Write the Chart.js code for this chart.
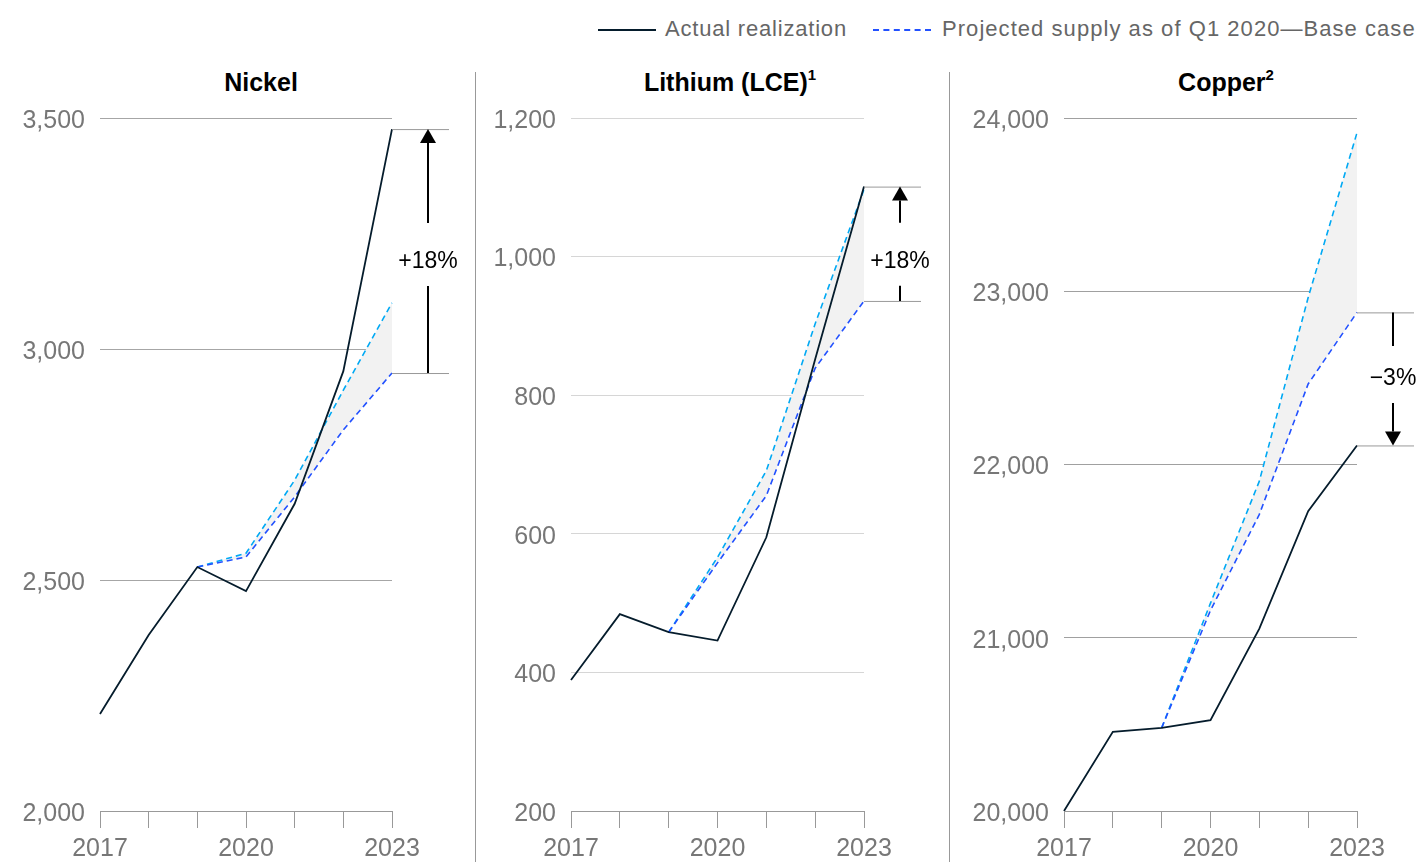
<!DOCTYPE html>
<html>
<head>
<meta charset="utf-8">
<script src="https://cdn.jsdelivr.net/npm/chart.js@4.4.0/dist/chart.umd.min.js"></script>
<style>
  html, body { margin: 0; padding: 0; background: #fff; }
  body { width: 1421px; height: 862px; position: relative; overflow: hidden; font-family: "Liberation Sans", Arial, sans-serif; }
  .panel { position: absolute; top: 0; height: 862px; }
  .title { position: absolute; top: 68px; font-size: 25px; font-weight: bold; color: #000; transform: translateX(-50%); white-space: nowrap; }
  .title sup { font-size: 15px; position: relative; top: -2px; }
  .sep { position: absolute; top: 72px; width: 1px; height: 790px; background: #999; }
  .legend { position: absolute; top: 16px; font-size: 22px; letter-spacing: 1.05px; color: #666; white-space: nowrap; }
  .swatch { position: absolute; top: 29px; width: 58px; height: 0; }
</style>
</head>
<body>
<div class="swatch" style="left:598px;border-top:2px solid #051c2c"></div>
<div class="legend" style="left:665px;letter-spacing:0.8px">Actual realization</div>
<div class="swatch" style="left:873px;border-top:2px dashed #2251ff"></div>
<div class="legend" style="left:942px">Projected supply as of Q1 2020—Base case</div>

<div class="title" style="left:261px">Nickel</div>
<div class="title" style="left:730px">Lithium (LCE)<sup>1</sup></div>
<div class="title" style="left:1226px">Copper<sup>2</sup></div>

<div class="sep" style="left:475px"></div>
<div class="sep" style="left:949px"></div>

<div class="panel" style="left:0;width:475px"><canvas id="nickel"></canvas></div>
<div class="panel" style="left:475px;width:474px"><canvas id="lithium"></canvas></div>
<div class="panel" style="left:949px;width:472px"><canvas id="copper"></canvas></div>

<script>
// years on the x axis
const years = ['2017', '2018', '2019', '2020', '2021', '2022', '2023'];
const shownYears = ['2017', '2020', '2023'];

// Nickel
const nickelActual = [2210, 2381, 2528, 2476, 2665, 2952, 3476];
const nickelBase = [null, null, 2528, 2550, 2680, 2825, 2948];
const nickelAlt = [null, null, 2528, 2558, 2716, 2911, 3100];
const nickelTicks = [2000, 2500, 3000, 3500];

// Lithium (LCE)
const lithiumActual = [389, 484, 458, 446, 595, 852, 1101];
const lithiumBase = [null, null, 458, 558, 655, 839, 936];
const lithiumAlt = [null, null, 458, 566, 691, 903, 1097];
const lithiumTicks = [200, 400, 600, 800, 1000, 1200];

// Copper
const copperActual = [20000, 20457, 20480, 20524, 21053, 21731, 22110];
const copperBase = [null, null, 20480, 21158, 21712, 22465, 22878];
const copperAlt = [null, null, 20480, 21200, 21904, 22964, 23915];
const copperTicks = [20000, 21000, 22000, 23000, 24000];

const labels = ['+18%', '+18%', '\u22123%'];

const tickFont = { family: '"Liberation Sans", Arial, sans-serif', size: 25 };

// draws the gap marker to the right of the plot
const gapMarker = {
  id: 'gapMarker',
  afterDraw(chart) {
    const opts = chart.options.plugins.gapMarker;
    const ctx = chart.ctx;
    const y = chart.scales.y;
    const right = chart.chartArea.right;
    const last = years.length - 1;
    const yA = y.getPixelForValue(chart.data.datasets[0].data[last]);
    const yB = y.getPixelForValue(chart.data.datasets[1].data[last]);
    const ax = right + 36;
    ctx.save();
    ctx.strokeStyle = '#999';
    ctx.lineWidth = 1;
    ctx.beginPath();
    ctx.moveTo(right, yA + 0.5); ctx.lineTo(right + 57, yA + 0.5);
    ctx.moveTo(right, yB + 0.5); ctx.lineTo(right + 57, yB + 0.5);
    ctx.stroke();

    const up = yA < yB;           // arrow points from base to actual
    const tip = yA, from = yB;
    const dir = up ? 1 : -1;
    const head = 14;
    const ty = (yA + yB) / 2 + opts.shift;
    ctx.strokeStyle = '#000';
    ctx.lineWidth = 2;
    ctx.beginPath();
    ctx.moveTo(ax, from);
    ctx.lineTo(ax, up ? ty + 24 : ty - 33);
    ctx.moveTo(ax, up ? ty - 39 : ty + 24);
    ctx.lineTo(ax, tip + dir * head);
    ctx.stroke();
    ctx.fillStyle = '#000';
    ctx.beginPath();
    ctx.moveTo(ax, tip);
    ctx.lineTo(ax - 8, tip + dir * head);
    ctx.lineTo(ax + 8, tip + dir * head);
    ctx.closePath();
    ctx.fill();

    ctx.font = '23px "Liberation Sans", Arial, sans-serif';
    ctx.textAlign = 'center';
    ctx.textBaseline = 'middle';
    ctx.fillText(opts.text, ax, ty);
    ctx.restore();
  }
};

function makeChart(id, actual, base, alt, ticks, gridColor, leftW, rightPad, text, shift) {
  new Chart(document.getElementById(id), {
    type: 'line',
    data: {
      labels: years,
      datasets: [
        { data: actual, borderColor: '#051c2c', borderWidth: 1.8, pointRadius: 0, fill: false },
        { data: base, borderColor: '#2251ff', borderWidth: 1.6, borderDash: [6, 4], pointRadius: 0, fill: false },
        { data: alt, borderColor: '#00a9f4', borderWidth: 1.6, borderDash: [6, 4], pointRadius: 0,
          fill: { target: 1 }, backgroundColor: '#f2f2f2' }
      ]
    },
    options: {
      responsive: true,
      maintainAspectRatio: false,
      animation: false,
      layout: { padding: { top: 118, right: rightPad, left: 0, bottom: 0 } },
      plugins: {
        legend: { display: false },
        tooltip: { enabled: false },
        gapMarker: { text: text, shift: shift }
      },
      scales: {
        x: {
          offset: false,
          grid: { drawOnChartArea: false, drawTicks: true, tickLength: 17, color: '#999' },
          border: { color: '#999' },
          ticks: {
            autoSkip: false, maxRotation: 0, padding: 6, color: '#777', font: tickFont,
            callback: function(v, i) { return shownYears.includes(years[i]) ? years[i] : ''; }
          },
          afterFit: function(s) { s.height = 51; }
        },
        y: {
          min: ticks[0],
          max: ticks[ticks.length - 1],
          afterBuildTicks: function(s) { s.ticks = ticks.map(v => ({ value: v })); },
          grid: { drawTicks: false, color: gridColor },
          border: { display: false },
          ticks: {
            padding: 15, color: '#777', font: tickFont, labelOffset: 3,
            callback: function(v) { return v.toLocaleString('en-US'); }
          },
          afterFit: function(s) { s.width = leftW; }
        }
      }
    },
    plugins: [gapMarker]
  });
}

makeChart('nickel', nickelActual, nickelBase, nickelAlt, nickelTicks, '#a6a6a6', 100, 83, labels[0], 11);
makeChart('lithium', lithiumActual, lithiumBase, lithiumAlt, lithiumTicks, '#d6d6d6', 96, 85, labels[1], 18);
makeChart('copper', copperActual, copperBase, copperAlt, copperTicks, '#a0a0a0', 115, 64, labels[2], 0);
</script>
</body>
</html>
